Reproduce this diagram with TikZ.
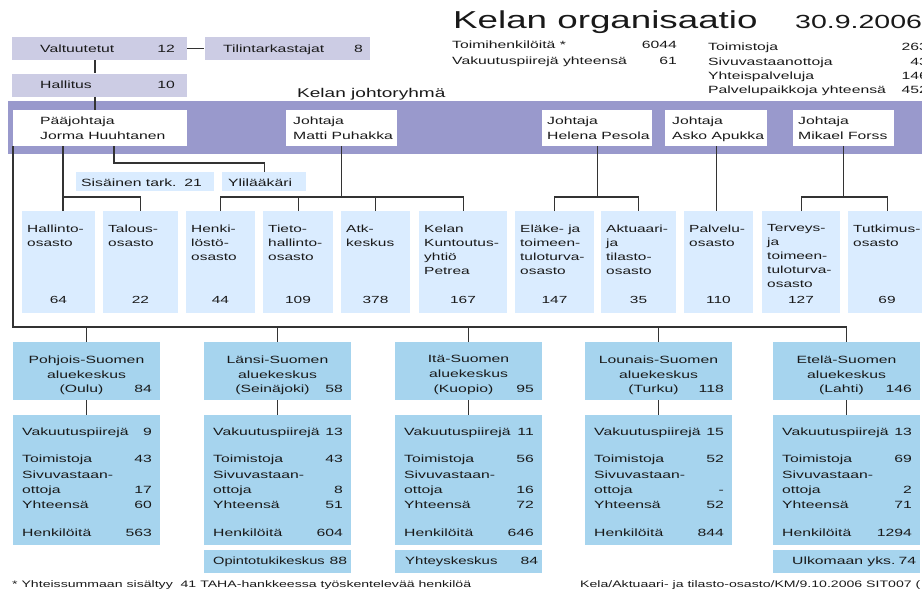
\documentclass[tikz,border=0pt]{standalone}
\usepackage{fontspec}
\setmainfont{Liberation Sans}[FakeStretch=1.5]
\usetikzlibrary{positioning}

\definecolor{lavcol}{HTML}{CCCCE4}
\definecolor{bandcol}{HTML}{9999CC}
\definecolor{deptcol}{HTML}{DAECFF}
\definecolor{regcol}{HTML}{A6D4EE}
\definecolor{linecol}{HTML}{333333}

\newcommand{\fontTitle}{\fontsize{24.5}{28}\selectfont}
\newcommand{\fontDate}{\fontsize{19}{22}\selectfont}
\newcommand{\fontBand}{\fontsize{12.7}{15}\selectfont}
\newcommand{\fontBox}{\fontsize{10.5}{15}\selectfont}
\newcommand{\fontDept}{\fontsize{10.3}{14}\selectfont}
\newcommand{\fontNote}{\fontsize{9.4}{11}\selectfont}

\tikzset{
  conn/.style={draw=linecol, line width=1.1pt},
  txt/.style={inner sep=0, font=\fontBox, text=black!90},
  lavbox/.style={fill=lavcol, minimum height=23, inner sep=0, anchor=north west},
  leadbox/.style={fill=white, minimum height=36, inner sep=0, anchor=north west},
  smallbox/.style={fill=deptcol, minimum height=19, inner sep=0, anchor=north west},
  deptbox/.style={fill=deptcol, minimum height=102, inner sep=0, anchor=north west},
  regbox/.style={fill=regcol, minimum width=147, inner sep=0, anchor=north west},
}

\begin{document}
\begin{tikzpicture}[x=1pt,y=-1pt]
        \useasboundingbox (0,0) rectangle (922,592);
        \clip (0,0) rectangle (922,592);

        % otsikko ja yhteenveto
        \node[txt, font=\fontTitle, anchor=base west] (title) at (453,28) {Kelan organisaatio};
        \node[txt, font=\fontDate, anchor=base west] (date) at (795,28) {30.9.2006};
        \foreach \yy/\lab/\num in {48/Toimihenkilöitä */6044, 64/Vakuutuspiirejä yhteensä/61} {
          \node[txt, anchor=base west] (hdl\yy) at (452,\yy) {\lab};
          \node[txt, anchor=base east] (hdn\yy) at (677,\yy) {\num};
        }
        \foreach \yy/\lab/\num in {50/Toimistoja/263, 65/Sivuvastaanottoja/43,
          79/Yhteispalveluja/146, 93/Palvelupaikkoja yhteensä/452} {
          \node[txt, anchor=base west] (hrl\yy) at (708,\yy) {\lab};
          \node[txt, anchor=base east] (hrn\yy) at (928,\yy) {\num};
        }

        % valtuutetut ja hallitus
        \node[lavbox, minimum width=175] (valt) at (12,37) {};
        \node[lavbox, minimum width=165, right=17pt of valt] (tilin) {};
        \node[lavbox, minimum width=175, below=13pt of valt] (hall) {};
        \node[txt, anchor=base west] (valtl) at (40,52) {Valtuutetut};
        \node[txt, anchor=base east] (valtn) at (175,52) {12};
        \node[txt, anchor=base west] (tilinl) at (223,52) {Tilintarkastajat};
        \node[txt, anchor=base east] (tilinn) at (363,52) {8};
        \node[txt, anchor=base west] (halll) at (40,88) {Hallitus};
        \node[txt, anchor=base east] (halln) at (175,88) {10};

        % johtoryhmä
        \fill[bandcol] (8,101) rectangle (922,154);
        \node[txt, font=\fontBand, anchor=base west] (bandl) at (297,97) {Kelan johtoryhmä};
        \foreach \nm/\x/\w/\tx/\lab in {%
          pj/13/174/40/Pääjohtaja\\Jorma Huuhtanen,
          mp/286/111/293/Johtaja\\Matti Puhakka,
          hp/542/110/547/Johtaja\\Helena Pesola,
          aa/665/102/672/Johtaja\\Asko Apukka,
          mf/793/101/798/Johtaja\\Mikael Forss} {
            \node[leadbox, minimum width=\w] (\nm) at (\x,110) {};
            \node[txt, align=left, anchor=north west] (\nm l) at (\tx,116.4) {\lab};
        }

        \node[smallbox, minimum width=138] (sisa) at (76,172) {};
        \node[txt, anchor=base west] (sisal) at (81,186.5) {Sisäinen tark.};
        \node[txt, anchor=base east] (sisan) at (202,186.5) {21};
        \node[smallbox, minimum width=84] (ylil) at (222,172) {};
        \node[txt, anchor=base west] (ylill) at (228,186.5) {Ylilääkäri};

        % osastot
        \foreach \nm/\x/\w/\lab/\num in {%
          hallinto/22/73/Hallinto-\\osasto/64,
          talous/103/75/Talous-\\osasto/22,
          henki/186/69/Henki-\\löstö-\\osasto/44,
          tieto/263/70/Tieto-\\hallinto-\\osasto/109,
          atk/341/69/Atk-\\keskus/378,
          kuntoutus/419/88/Kelan\\Kuntoutus-\\yhtiö\\Petrea/167,
          elake/515/79/Eläke- ja\\toimeen-\\tuloturva-\\osasto/147,
          aktuaari/601/75/Aktuaari-\\ja\\tilasto-\\osasto/35,
          palvelu/684/69/Palvelu-\\osasto/110,
          terveys/762/78/Terveys-\\ja\\toimeen-\\tuloturva-\\osasto/127,
          tutkimus/848/78/Tutkimus-\\osasto/69} {
            \node[deptbox, minimum width=\w] (\nm) at (\x,211) {};
            \node[txt, font=\fontDept, align=left, anchor=north west] (\nm l) at (\x+5,224.5) {\lab};
            \node[txt, font=\fontDept, anchor=base] (\nm n) at (\x+\w/2,303) {\num};
        }

        % aluekeskukset
        \foreach \nm/\x/\reg/\city/\rnum/\vak/\toim/\siv/\yht/\hen in {%
          pohjois/13/Pohjois-Suomen/Oulu/84/9/43/17/60/563,
          lansi/204/Länsi-Suomen/Seinäjoki/58/13/43/8/51/604,
          ita/395/Itä-Suomen/Kuopio/95/11/56/16/72/646,
          lounais/585/Lounais-Suomen/Turku/118/15/52/-/52/844,
          etela/773/Etelä-Suomen/Lahti/146/13/69/2/71/1294} {
            \node[regbox, minimum height=58] (\nm) at (\x,342) {};
            \node[regbox, minimum height=130] (low\nm) at (\x,415) {};
            \draw[conn] (\nm.south) -- (low\nm.north);
            \node[txt, align=center, anchor=north] (\nm t) at (\x+73.5,355.4) {\reg\\aluekeskus};
            \node[txt, anchor=base] (\nm c) at (\x+68.5,392) {(\city)};
            \node[txt, anchor=base east] (\nm n) at (\x+139,392) {\rnum};
            \foreach \yy/\lab in {435/Vakuutuspiirejä, 462/Toimistoja, 478/Sivuvastaan-,
              493/ottoja, 508/Yhteensä, 536/Henkilöitä}
              \node[txt, anchor=base west] (\nm l\yy) at (\x+9,\yy) {\lab};
            \foreach \yy/\num in {435/\vak, 462/\toim, 493/\siv, 508/\yht, 536/\hen}
              \node[txt, anchor=base east] (\nm n\yy) at (\x+139,\yy) {\num};
        }
        \foreach \nm/\dx/\sc/\lab/\num in {lansi/9/0.93/Opintotukikeskus/88,
          ita/10/0.95/Yhteyskeskus/84, etela/19/1/Ulkomaan yks./74} {
            \node[regbox, minimum height=23, below=4pt of low\nm] (x\nm) {};
            \node[txt, anchor=base west] (x\nm l) at ([xshift=\dx pt,yshift=8pt]x\nm.south west)
              {\scalebox{\sc}[1]{\lab}};
            \node[txt, anchor=base east] (x\nm n) at ([xshift=-4pt,yshift=8pt]x\nm.south east) {\num};
        }

        % yhteysviivat
        \coordinate (trunk) at (95,0);
        \coordinate (busH) at (63,197);
        \coordinate (busY) at (114,163);
        \coordinate (busL) at (0,197);
        \coordinate (busR) at (13,327);
        \draw[conn] (valt.east) -- (tilin.west);
        \draw[conn] (valt.south -| trunk) -- (hall.north -| trunk);
        \draw[conn] (hall.south -| trunk) -- (pj.north -| trunk);
        \draw[conn] (pj.south -| busH) -- (busH) -| (talous.north);
        \draw[conn] (busH) -- (busH |- hallinto.north);
        \draw[conn] (pj.south -| busY) -- (busY) -| (ylil.north);
        \draw[conn] (mp.south) -- (mp.south |- busL);
        \draw[conn] (henki.north) -- ++(0,-14) -| (kuntoutus.north);
        \draw[conn] (tieto.north) -- ++(0,-14);
        \draw[conn] (atk.north) -- ++(0,-14);
        \draw[conn] (hp.south) -- (hp.south |- busL);
        \draw[conn] (elake.north) -- ++(0,-14) -| (aktuaari.north);
        \draw[conn] (aa.south) -- (aa.south |- palvelu.north);
        \draw[conn] (mf.south) -- (mf.south |- busL);
        \draw[conn] (terveys.north) -- ++(0,-14) -| (tutkimus.north);
        \draw[conn] (pj.south west) |- (etela.north |- busR) -- (etela.north);
        \foreach \nm in {pohjois,lansi,ita,lounais}
          \draw[conn] (\nm.north) -- (\nm.north |- busR);

        % alaviitteet
        \node[txt, font=\fontNote, anchor=base west] (noteL) at (12,587)
          {* Yhteissummaan sisältyy\ \ 41 TAHA-hankkeessa työskentelevää henkilöä};
        \node[txt, font=\fontNote, anchor=base west] (noteR) at (580,587)
          {Kela/Aktuaari- ja tilasto-osasto/KM/9.10.2006 SIT007 (};
      \end{tikzpicture}
\end{document}
